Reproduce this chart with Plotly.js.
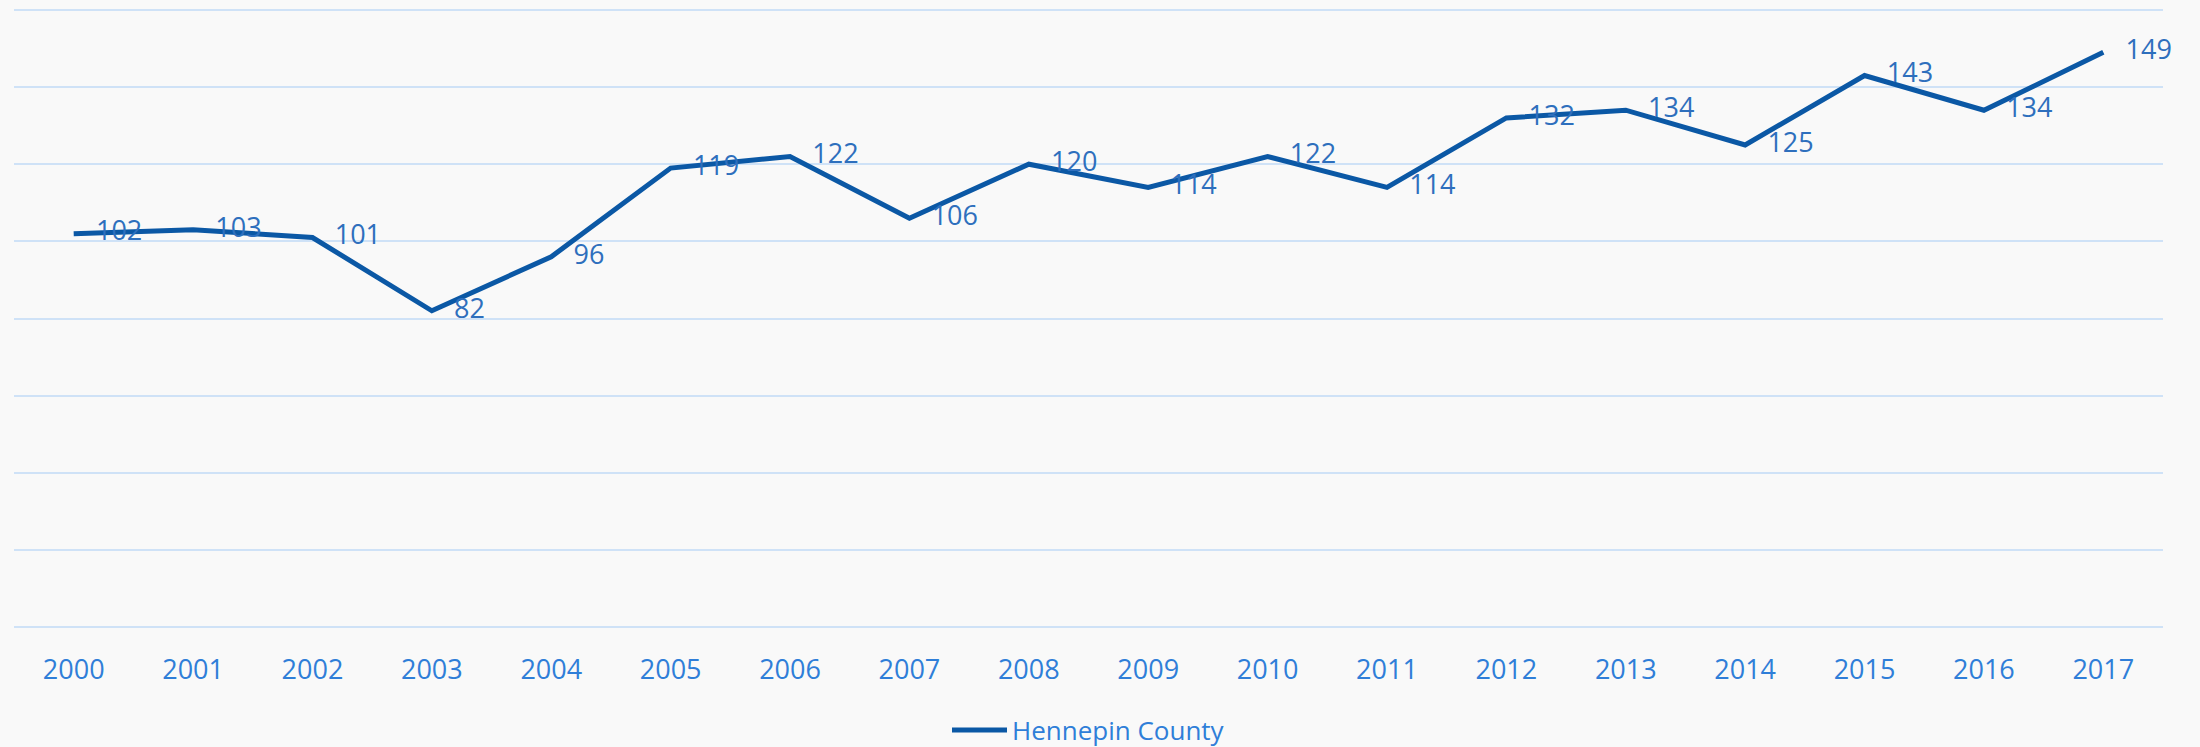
<!DOCTYPE html>
<html>
<head>
<meta charset="utf-8">
<script src="https://cdn.plot.ly/plotly-3.0.1.min.js"></script>
<style>
  html, body { margin: 0; padding: 0; background: #f9f9f9; }
  #chart { width: 2200px; height: 747px; }
</style>
</head>
<body>
<div id="chart"></div>
<script>
const years = ["2000","2001","2002","2003","2004","2005","2006","2007","2008","2009","2010","2011","2012","2013","2014","2015","2016","2017"];
const hennepin = [102,103,101,82,96,119,122,106,120,114,122,114,132,134,125,143,134,149];
const seriesName = "Hennepin County";

const FONT = "'Open Sans', 'Noto Sans', sans-serif";

const trace = {
  x: years,
  y: hennepin,
  type: "scatter",
  mode: "lines+markers+text",
  name: seriesName,
  line: { color: "#0b58a5", width: 5 },
  marker: { size: 34, color: "rgba(0,0,0,0)", line: { width: 0 } },
  text: hennepin.map(String),
  textposition: "middle right",
  textfont: { family: FONT, size: 27, color: "#2e6fbd" },
  cliponaxis: false,
  hoverinfo: "x+y"
};

const layout = {
  width: 2200,
  height: 747,
  paper_bgcolor: "#f9f9f9",
  plot_bgcolor: "#f9f9f9",
  margin: { l: 14, r: 37, t: 8, b: 118, autoexpand: false },
  showlegend: true,
  legend: {
    orientation: "h",
    x: 0.5,
    xanchor: "center",
    y: -0.163,
    yanchor: "middle",
    font: { family: FONT, size: 26, color: "#2f7ed8" },
    itemwidth: 55,
    bgcolor: "rgba(0,0,0,0)"
  },
  xaxis: {
    type: "category",
    range: [-0.5, 17.5],
    automargin: false,
    showgrid: false,
    zeroline: false,
    showline: false,
    ticks: "outside",
    ticklen: 17,
    tickcolor: "rgba(0,0,0,0)",
    tickfont: { family: FONT, size: 27, color: "#2f7ed8" }
  },
  yaxis: {
    range: [-0.5, 160.5],
    dtick: 20,
    tick0: 0,
    automargin: false,
    showticklabels: false,
    showgrid: true,
    gridcolor: "#cfe2f7",
    gridwidth: 2,
    zeroline: true,
    zerolinecolor: "#cfe2f7",
    zerolinewidth: 2,
    showline: false
  }
};

Plotly.newPlot("chart", [trace], layout, { displayModeBar: false, staticPlot: true });
</script>
</body>
</html>
